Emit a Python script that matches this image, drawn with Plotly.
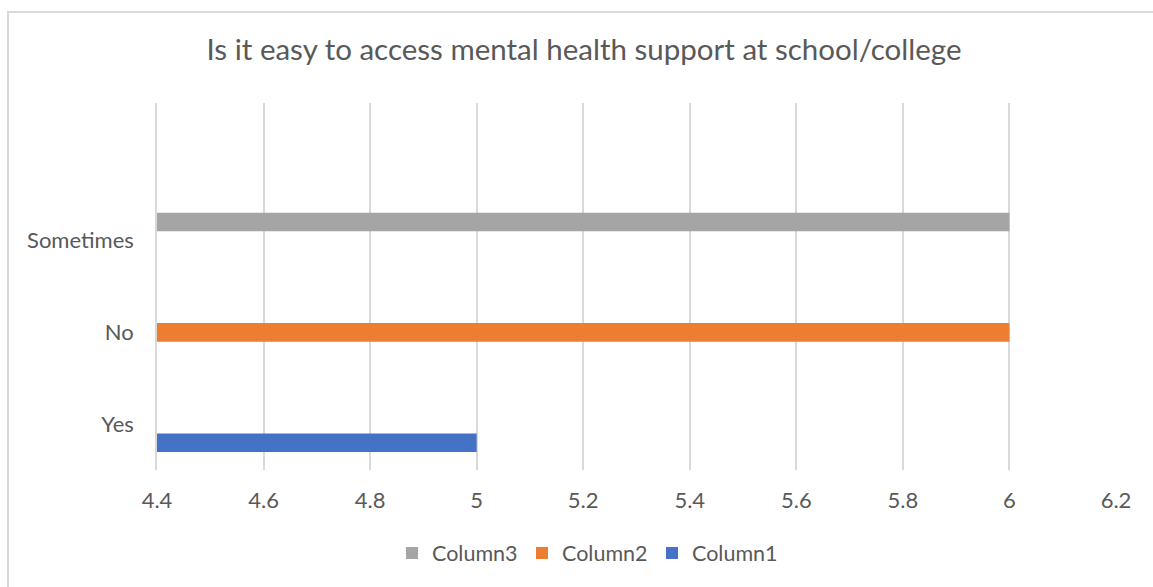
import plotly.graph_objects as go

categories = ["Yes", "No", "Sometimes"]
series_names = ["Column1", "Column2", "Column3"]
column1 = [5, None, None]
column2 = [None, 6, None]
column3 = [None, None, 6]
colors = ["#4472C4", "#ED7D31", "#A5A5A5"]
x_ticks = [4.4, 4.6, 4.8, 5.0, 5.2, 5.4, 5.6, 5.8, 6.0, 6.2]
x_tick_labels = ["4.4", "4.6", "4.8", "5", "5.2", "5.4", "5.6", "5.8", "6", "6.2"]
title_text = "Is it easy to access mental health support at school/college"

FONT = "Lato"
TXT = "#595959"
GRID = "#D9D9D9"

fig = go.Figure()
for name, vals, col in zip(series_names, [column1, column2, column3], colors):
    fig.add_trace(go.Bar(
        y=categories, x=vals, name=name, orientation="h",
        marker=dict(color=col, line=dict(width=0)),
    ))

W, H = 1153, 587
L, R, T, B = 157, 1116, 103, 470
pw, ph = R - L, B - T

def px_x(x):
    return (x - L) / pw

def px_y(y):
    return (B - y) / ph

fig.update_layout(
    width=W, height=H,
    margin=dict(l=L, r=W - R, t=T, b=H - B, pad=0),
    paper_bgcolor="white", plot_bgcolor="white",
    barmode="group", bargap=0.39, bargroupgap=0,
    font=dict(family=FONT, color=TXT, size=22),
    title=dict(
        text=title_text, font=dict(family=FONT, size=29.5, color=TXT),
        x=584 / W, xref="container", xanchor="center",
        y=1 - 50 / H, yref="container", yanchor="middle",
    ),
    xaxis=dict(
        range=[4.4, 6.2], tickvals=x_ticks, ticktext=x_tick_labels,
        showgrid=True, gridcolor=GRID, gridwidth=1.6,
        zeroline=False, showline=False, ticks="",
        ticklabelstandoff=15,
        tickfont=dict(size=22, color=TXT, family=FONT),
    ),
    yaxis=dict(
        type="category", categoryorder="array", categoryarray=categories,
        range=[-0.5, 3.5], showgrid=False, zeroline=False,
        showline=True, linecolor=GRID, linewidth=1.6,
        ticks="", ticklabelstandoff=17,
        tickfont=dict(size=22, color=TXT, family=FONT),
    ),
    legend=dict(
        orientation="h", traceorder="reversed",
        x=px_x(587), xanchor="center", y=px_y(553), yanchor="middle",
        font=dict(size=21.5, color=TXT, family=FONT),
        itemwidth=30, entrywidth=85, entrywidthmode="pixels",
        bgcolor="rgba(0,0,0,0)",
    ),
    showlegend=True,
    shapes=[dict(
        type="rect", xref="paper", yref="paper",
        x0=px_x(8), x1=px_x(1170), y0=px_y(600), y1=px_y(12),
        line=dict(color=GRID, width=2), fillcolor="rgba(0,0,0,0)", layer="below",
    )],
)

fig.write_html("out.html", post_script="document.body.style.margin='0';",
               config={"displayModeBar": False})
